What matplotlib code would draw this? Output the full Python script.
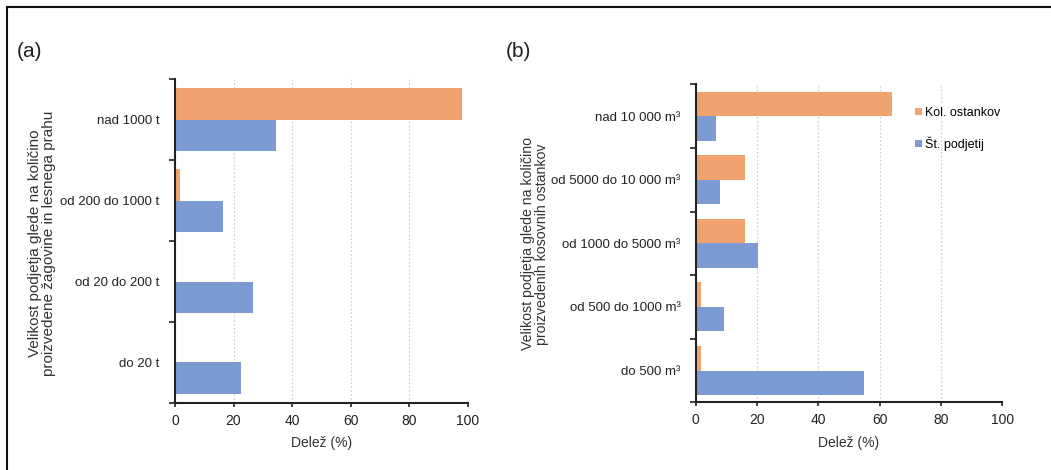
import numpy as np
import matplotlib.pyplot as plt
from matplotlib.lines import Line2D

plt.rcParams['font.family'] = ['Liberation Sans', 'DejaVu Sans']

# (a) zagovina in lesni prah
cats_a = ["nad 1000 t", "od 200 do 1000 t", "od 20 do 200 t", "do 20 t"]
kol_a = [98.2, 1.7, 0.3, 0.0]
st_a = [34.4, 16.5, 26.8, 22.5]

# (b) kosovni ostanki
cats_b = ["nad 10 000 m³", "od 5000 do 10 000 m³", "od 1000 do 5000 m³",
          "od 500 do 1000 m³", "do 500 m³"]
kol_b = [64.1, 15.9, 15.9, 1.7, 1.7]
st_b = [6.6, 8.0, 20.4, 9.3, 54.8]

ylabel_a = "Velikost podjetja glede na količino\nproizvedene žagovine in lesnega prahu"
ylabel_b = "Velikost podjetja glede na količino\nproizvedenih kosovnih ostankov"

ORANGE = "#F0A36E"
BLUE = "#7B9BD2"

fig = plt.figure(figsize=(10.51, 4.70), dpi=100)
ax_a = fig.add_axes([0.1665, 0.1426, 0.2785, 0.689])
ax_b = fig.add_axes([0.662, 0.144, 0.2917, 0.6766])


def draw(ax, cats, kol, st):
    n = len(cats)
    y = np.arange(n)
    h = 0.385
    ax.barh(y - h / 2, kol, height=h, color=ORANGE, label="Kol. ostankov", zorder=2)
    ax.barh(y + h / 2, st, height=h, color=BLUE, label="Št. podjetij", zorder=2)
    ax.set_ylim(n - 0.5, -0.5)
    ax.set_xlim(0, 100)
    ax.set_xticks(range(0, 101, 20))
    ax.grid(axis="x", color="#cccccc", linestyle=(0, (1.5, 2)), linewidth=0.8, zorder=0)
    # ticks between categories, labels at centres
    ax.set_yticks(np.arange(n + 1) - 0.5)
    ax.set_yticklabels([])
    ax.set_yticks(y, minor=True)
    ax.set_yticklabels(cats, minor=True, fontsize=9.5, color="#222222")
    ax.tick_params(axis="y", which="minor", length=0, pad=11)
    ax.tick_params(axis="y", which="major", length=4, width=1.2, color="#222222")
    ax.tick_params(axis="x", length=3, width=1.2, labelsize=10, colors="#222222", pad=5)
    for s in ["top", "right"]:
        ax.spines[s].set_visible(False)
    for s in ["left", "bottom"]:
        ax.spines[s].set_linewidth(1.5)
        ax.spines[s].set_color("#222222")
    ax.set_xlabel("Delež (%)", fontsize=10, color="#333333", labelpad=6)


draw(ax_a, cats_a, kol_a, st_a)
draw(ax_b, cats_b, kol_b, st_b)

fig.text(42 / 1051, 1 - 243 / 470, ylabel_a, rotation=90, ha="center", va="center",
         multialignment="center", fontsize=11, linespacing=1.05, color="#333333")
fig.text(535 / 1051, 1 - 244 / 470, ylabel_b, rotation=90, ha="center", va="center",
         multialignment="center", fontsize=10.2, linespacing=1.0, color="#333333")

ax_b.legend(loc="upper left", bbox_to_anchor=(0.68, 0.963), frameon=False,
            fontsize=9, handlelength=0.5, handleheight=0.5, handletextpad=0.3,
            labelspacing=1.35)

fig.text(0.016, 0.878, "(a)", fontsize=15, color="#222222")
fig.text(0.481, 0.878, "(b)", fontsize=15, color="#222222")

# frame lines at top and left
fig.add_artist(Line2D([7 / 1051, 1], [1 - 7 / 470, 1 - 7 / 470], color="#111111", linewidth=1.5))
fig.add_artist(Line2D([7 / 1051, 7 / 1051], [0, 1 - 7 / 470], color="#111111", linewidth=1.5))

fig.savefig("out.png", dpi=100)
